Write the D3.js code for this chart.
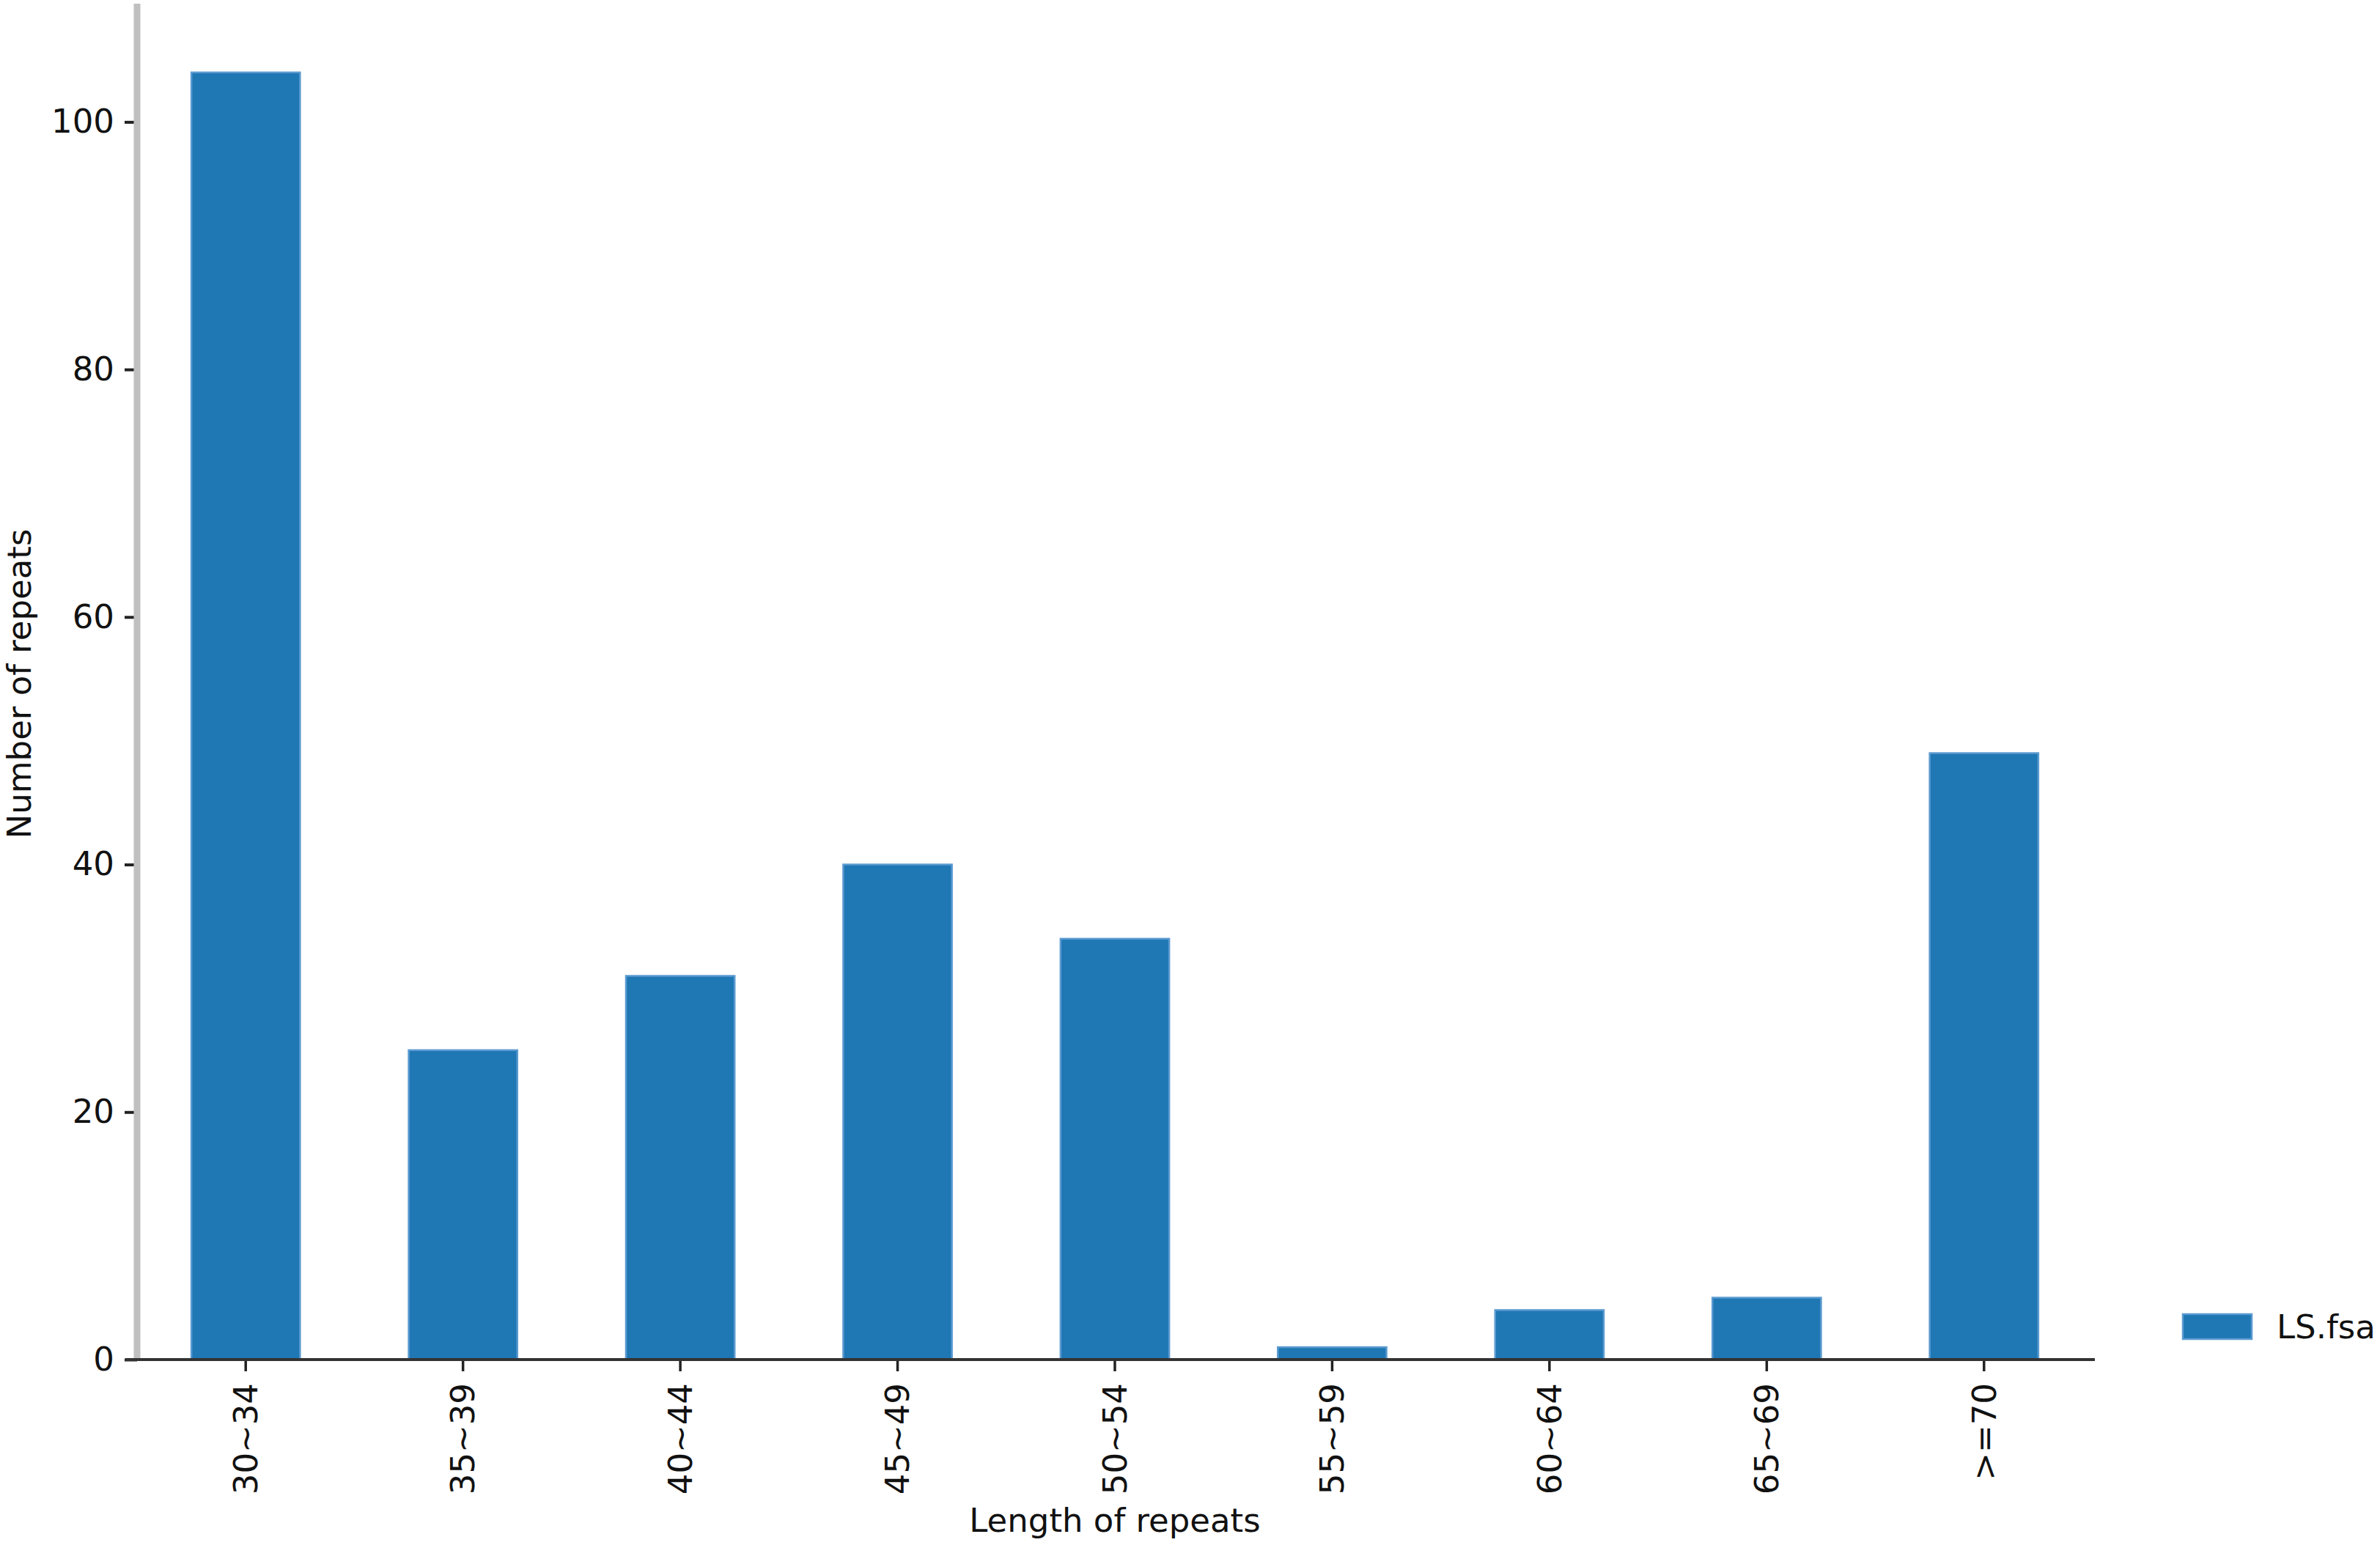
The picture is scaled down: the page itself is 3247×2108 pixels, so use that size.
<!DOCTYPE html>
<html>
<head>
<meta charset="utf-8">
<script src="https://cdn.jsdelivr.net/npm/d3@7"></script>
<style>
  html, body { margin: 0; padding: 0; background: #fff; }
  svg { display: block; }
  text { font-family: "DejaVu Sans", sans-serif; fill: #111; }
</style>
</head>
<body>
<script>
const categories = ["30~34", "35~39", "40~44", "45~49", "50~54", "55~59", "60~64", "65~69", ">=70"];
const values = [104, 25, 31, 40, 34, 1, 4, 5, 49];
const yTicks = [0, 20, 40, 60, 80, 100];
const seriesName = "LS.fsa";
const xTitle = "Length of repeats";
const yTitle = "Number of repeats";

(function () {
const W = 3247, H = 2108;
const mLeft = 187, mRight = 2855, mTop = 11, mBottom = 1855;
const fontSize = 45;

const svg = d3.select("body").append("svg").attr("width", W).attr("height", H);

const x = d3.scaleBand().domain(categories).range([mLeft, mRight]).paddingInner(0.5).paddingOuter(0.25);
const y = d3.scaleLinear().domain([0, d3.max(values) * 1.05]).range([mBottom, mTop]);

// bars
svg.append("g").selectAll("rect").data(values).join("rect")
  .attr("x", (d, i) => x(categories[i]))
  .attr("y", d => y(d))
  .attr("width", x.bandwidth())
  .attr("height", d => y(0) - y(d))
  .attr("fill", "#1f77b4")
  .attr("stroke", "#5a9ad0")
  .attr("stroke-width", 2.5);

// y axis
const yAxis = svg.append("g").attr("transform", `translate(${mLeft},0)`)
  .call(d3.axisLeft(y).tickValues(yTicks).tickSize(17).tickPadding(14).tickFormat(d3.format("d")));
yAxis.select(".domain").remove();
yAxis.selectAll(".tick line").attr("stroke", "#222").attr("stroke-width", 4);
yAxis.selectAll(".tick text").attr("font-size", fontSize).attr("font-family", "DejaVu Sans").attr("fill", "#111");
svg.append("line").attr("x1", mLeft).attr("x2", mLeft).attr("y1", 5).attr("y2", mBottom)
  .attr("stroke", "#c0c0c0").attr("stroke-width", 9);

// x axis
const xAxis = svg.append("g").attr("transform", `translate(0,${mBottom})`)
  .call(d3.axisBottom(x).tickSize(16).tickPadding(0));
xAxis.select(".domain").remove();
xAxis.selectAll(".tick line").attr("stroke", "#222").attr("stroke-width", 3.5);
xAxis.selectAll(".tick text")
  .attr("font-size", fontSize).attr("font-family", "DejaVu Sans").attr("fill", "#111")
  .attr("transform", "translate(0,32) rotate(-90)")
  .attr("text-anchor", "end").attr("dy", "0.35em").attr("y", 0).attr("x", 0);
svg.append("line").attr("x1", mLeft - 16).attr("x2", mRight + 3).attr("y1", mBottom).attr("y2", mBottom)
  .attr("stroke", "#333").attr("stroke-width", 4);

// axis titles
svg.append("text").attr("x", (mLeft + mRight) / 2).attr("y", 2090)
  .attr("text-anchor", "middle").attr("font-size", fontSize).text(xTitle);
svg.append("text").attr("transform", `translate(42,${(mTop + mBottom) / 2}) rotate(-90)`)
  .attr("text-anchor", "middle").attr("font-size", fontSize).text(yTitle);

// legend
const lg = svg.append("g").attr("transform", "translate(2978,1793)");
lg.append("rect").attr("width", 94).attr("height", 34).attr("fill", "#1f77b4")
  .attr("stroke", "#5a9ad0").attr("stroke-width", 2.5);
lg.append("text").attr("x", 128).attr("y", 33)
  .attr("font-size", fontSize).text(seriesName);
})();
</script>
</body>
</html>
